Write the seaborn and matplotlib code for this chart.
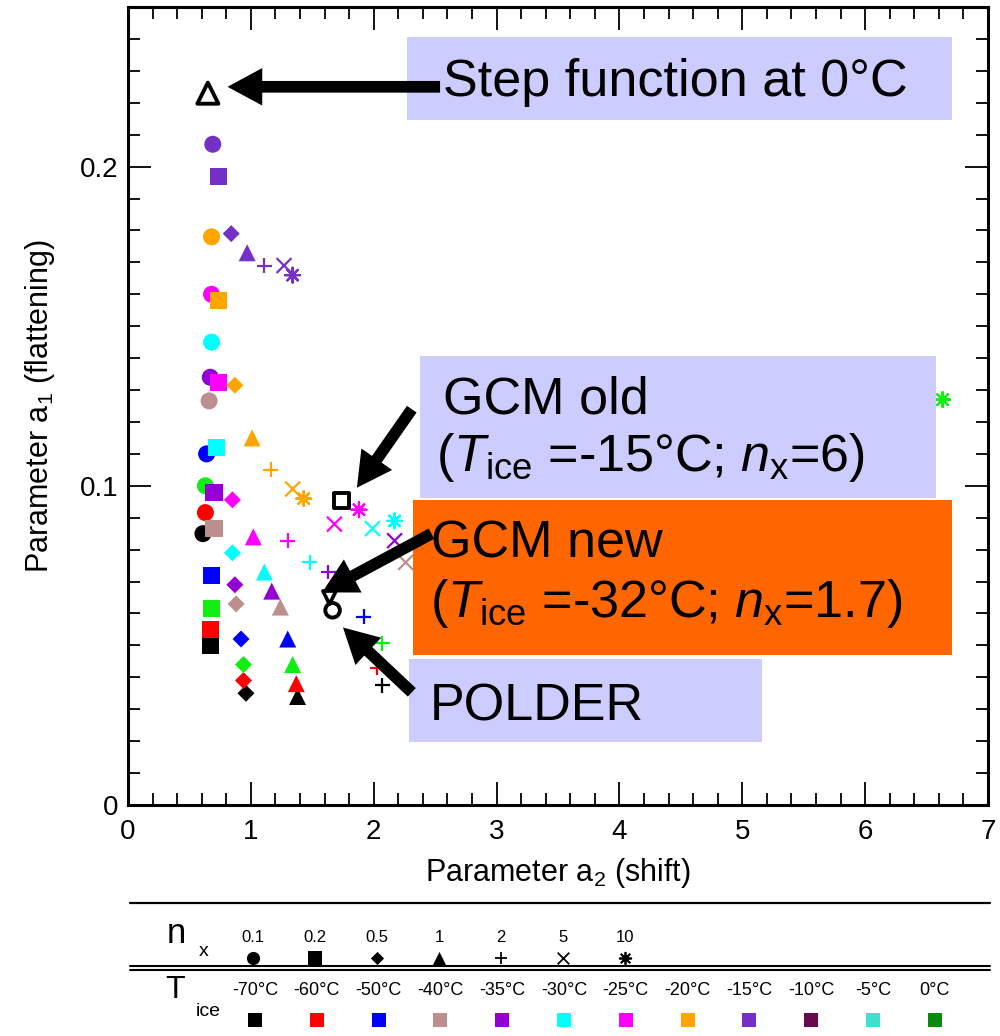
import numpy as np
import pandas as pd
import matplotlib
matplotlib.use("Agg")
import matplotlib.pyplot as plt
from matplotlib.patches import Rectangle
from matplotlib.ticker import MultipleLocator
import seaborn as sns

# --- data: a2 (shift) / a1 (flattening) per T_ice ---
nx_order = ['0.1', '0.2', '0.5', '1', '2', '5', '10']
tice_order = ['-70', '-60', '-50', '-40', '-35', '-30', '-25', '-20', '-15', '-10', '-5', '0']

nx_m70 = ['0.1', '0.2', '0.5', '1', '2']
a2_m70 = [0.61, 0.67, 0.96, 1.38, 2.07]
a1_m70 = [0.085, 0.050, 0.035, 0.034, 0.0375]

nx_m60 = ['0.1', '0.2', '0.5', '1', '2']
a2_m60 = [0.63, 0.67, 0.94, 1.37, 2.03]
a1_m60 = [0.0916, 0.055, 0.039, 0.038, 0.043]

nx_m50 = ['0.1', '0.2', '0.5', '1', '2']
a2_m50 = [0.64, 0.68, 0.92, 1.30, 1.92]
a1_m50 = [0.110, 0.072, 0.052, 0.052, 0.059]

nx_m40 = ['0.1', '0.2', '0.5', '1', '5']
a2_m40 = [0.66, 0.70, 0.88, 1.24, 2.26]
a1_m40 = [0.1266, 0.0866, 0.063, 0.062, 0.076]

nx_m35 = ['0.1', '0.2', '0.5', '1', '2', '5']
a2_m35 = [0.67, 0.70, 0.87, 1.17, 1.63, 2.17]
a1_m35 = [0.134, 0.098, 0.069, 0.067, 0.073, 0.0828]

nx_m30 = ['0.1', '0.2', '0.5', '1', '2', '5', '10']
a2_m30 = [0.68, 0.72, 0.85, 1.11, 1.48, 1.99, 2.17]
a1_m30 = [0.145, 0.112, 0.079, 0.073, 0.076, 0.0866, 0.089]

nx_m25 = ['0.1', '0.2', '0.5', '1', '2', '5', '10']
a2_m25 = [0.68, 0.74, 0.85, 1.02, 1.30, 1.68, 1.88]
a1_m25 = [0.160, 0.1325, 0.0956, 0.084, 0.0828, 0.088, 0.0925]

nx_m20 = ['0.1', '0.2', '0.5', '1', '2', '5', '10']
a2_m20 = [0.68, 0.74, 0.87, 1.01, 1.16, 1.34, 1.43]
a1_m20 = [0.178, 0.158, 0.1315, 0.115, 0.105, 0.099, 0.096]

nx_m15 = ['0.1', '0.2', '0.5', '1', '2', '5', '10']
a2_m15 = [0.69, 0.74, 0.84, 0.97, 1.11, 1.27, 1.34]
a1_m15 = [0.207, 0.197, 0.179, 0.173, 0.169, 0.169, 0.166]

nx_p0 = ['0.1', '0.2', '0.5', '1', '2', '10']
a2_p0 = [0.63, 0.68, 0.94, 1.34, 2.07, 6.63]
a1_p0 = [0.100, 0.0615, 0.044, 0.044, 0.0507, 0.127]

# reference points (open symbols)
step_a2, step_a1 = [0.65], [0.223]
gcm_old_a2, gcm_old_a1 = [1.74], [0.0953]
gcm_new_a2, gcm_new_a1 = [1.64], [0.065]
polder_a2, polder_a1 = [1.665], [0.061]

tice_colors = ['#000000', '#ff0000', '#0000ff', '#bc8f8f', '#9400d3', '#00ffff',
               '#ff00ff', '#ffa500', '#7530c8', '#6b0a4b', '#40e0d0', '#0a8a0a']
tice_legend = ['-70°C', '-60°C', '-50°C', '-40°C', '-35°C', '-30°C',
               '-25°C', '-20°C', '-15°C', '-10°C', '-5°C', '0°C']

series = [('-70', nx_m70, a2_m70, a1_m70), ('-60', nx_m60, a2_m60, a1_m60),
          ('-50', nx_m50, a2_m50, a1_m50), ('-40', nx_m40, a2_m40, a1_m40),
          ('-35', nx_m35, a2_m35, a1_m35), ('-30', nx_m30, a2_m30, a1_m30),
          ('-25', nx_m25, a2_m25, a1_m25), ('-20', nx_m20, a2_m20, a1_m20),
          ('-15', nx_m15, a2_m15, a1_m15), ('0', nx_p0, a2_p0, a1_p0)]
df = pd.concat([pd.DataFrame({'a2': a2, 'a1': a1, 'nx': nx, 'tice': t})
                for t, nx, a2, a1 in series], ignore_index=True)
df['order'] = df['nx'].map({k: i for i, k in enumerate(nx_order)})
df = df.sort_values('order', kind='stable')

palette = dict(zip(tice_order, tice_colors))
palette['0'] = '#11ee11'
diamond = [(0, 1), (1, 0), (0, -1), (-1, 0), (0, 1)]
filled_markers = {'0.1': 'o', '0.2': 's', '0.5': diamond, '1': '^'}
line_markers = {'2': '+', '5': 'x', '10': (8, 2, 0)}

sns.set_style('ticks')
plt.rcParams['font.family'] = ['Liberation Sans', 'DejaVu Sans']
plt.rcParams['mathtext.fontset'] = 'custom'
plt.rcParams['mathtext.rm'] = 'Liberation Sans'
plt.rcParams['mathtext.it'] = 'Liberation Sans:italic'
for key in ['text.color', 'axes.labelcolor', 'xtick.color', 'ytick.color', 'axes.edgecolor']:
    plt.rcParams[key] = 'black'

fig = plt.figure(figsize=(10, 10.36), dpi=100)
ax = fig.add_axes([0.128, 231 / 1036, 0.86, 798 / 1036])

sns.scatterplot(data=df[df['nx'].isin(filled_markers)], x='a2', y='a1', hue='tice',
                style='nx', palette=palette, markers=filled_markers, s=150,
                linewidth=0, legend=False, ax=ax, zorder=2)
sns.scatterplot(data=df[df['nx'].isin(line_markers)], x='a2', y='a1', hue='tice',
                style='nx', palette=palette, markers=line_markers, s=115,
                linewidth=1.6, legend=False, ax=ax, zorder=2)

open_kw = dict(facecolor='none', edgecolor='black', ax=ax, zorder=2)
sns.scatterplot(x=step_a2, y=step_a1, marker='^', s=230, linewidth=2.8, **open_kw)
sns.scatterplot(x=gcm_old_a2, y=gcm_old_a1, marker='s', s=120, linewidth=2.8, **open_kw)
sns.scatterplot(x=gcm_new_a2, y=gcm_new_a1, marker='v', s=90, linewidth=2.6, **open_kw)
sns.scatterplot(x=polder_a2, y=polder_a1, marker='o', s=110, linewidth=2.8, **open_kw)

ax.set_xlim(0, 7)
ax.set_ylim(0, 0.25)
ax.set_xticks(range(8))
ax.set_xticklabels([str(i) for i in range(8)])
ax.set_yticks([0, 0.1, 0.2])
ax.set_yticklabels(['0', '0.1', '0.2'])
ax.xaxis.set_minor_locator(MultipleLocator(0.2))
ax.yaxis.set_minor_locator(MultipleLocator(0.01))
ax.tick_params(which='both', direction='in', top=True, right=True, labelsize=20)
ax.tick_params(axis='x', which='major', length=16.5, width=1.3, pad=10)
ax.tick_params(axis='y', which='major', length=16.5, width=1.3, pad=7)
ax.tick_params(which='minor', length=8.5, width=1.3)
for sp in ax.spines.values():
    sp.set_linewidth(2.2)
ax.set_xlabel(r'Parameter a$_{2}$ (shift)', fontsize=22, labelpad=8)
ax.set_ylabel(r'Parameter a$_{1}$ (flattening)', fontsize=22, labelpad=16)

# annotation boxes
lav = '#ccccff'
boxes = [((2.27, 0.2147), 4.44, 0.0259, lav),
         ((2.38, 0.0963), 4.20, 0.0443, lav),
         ((2.32, 0.0469), 4.39, 0.0487, '#ff6600'),
         ((2.29, 0.0197), 2.87, 0.0259, lav)]
for xy, w, h, c in boxes:
    ax.add_patch(Rectangle(xy, w, h, facecolor=c, edgecolor='none', zorder=3))

tk = dict(fontsize=37.5, va='baseline', ha='left', zorder=4, color='black')
ax.text(2.56, 0.2222, 'Step function at 0°C', **tk)
ax.text(2.56, 0.1225, 'GCM old', **tk)
ax.text(2.51, 0.1047, r'($\mathit{T}_{\mathrm{ice}}$ =-15°C; $\mathit{n}_{\mathrm{x}}$=6)', **tk)
ax.text(2.47, 0.0775, 'GCM new', **tk)
ax.text(2.46, 0.0588, r'($\mathit{T}_{\mathrm{ice}}$ =-32°C; $\mathit{n}_{\mathrm{x}}$=1.7)', **tk)
ax.text(2.46, 0.0266, 'POLDER', **tk)

arrow = dict(arrowstyle='simple,head_length=1.25,head_width=1.35,tail_width=0.42',
             mutation_scale=20, facecolor='black', edgecolor='none',
             shrinkA=0, shrinkB=0)
for tail, head in [((2.54, 0.225), (0.81, 0.225)),
                   ((2.31, 0.124), (1.863, 0.0994)),
                   ((2.47, 0.085), (1.58, 0.0666)),
                   ((2.31, 0.0353), (1.75, 0.0556))]:
    ax.annotate('', xy=head, xytext=tail, arrowprops=arrow, zorder=5)

# symbol key below the axes (pixel coordinates)
lg = fig.add_axes([0, 0, 1, 1])
lg.set_xlim(0, 1000)
lg.set_ylim(1036, 0)
lg.axis('off')
lg.plot([130, 990], [903, 903], color='black', lw=1.6)
lg.plot([130, 990], [966, 966], color='black', lw=1.5)
lg.plot([130, 990], [970, 970], color='black', lw=1.5)

lg.text(176, 943, 'n', fontsize=25, ha='center', va='baseline')
lg.text(204, 956, 'x', fontsize=14, ha='center', va='baseline')
lg.text(175, 998, 'T', fontsize=23, ha='center', va='baseline')
lg.text(208, 1016, 'ice', fontsize=14, ha='center', va='baseline')

key_markers = ['o', 's', diamond, '^', '+', 'x', (8, 2, 0)]
for i, (lab, m) in enumerate(zip(nx_order, key_markers)):
    xp = 253 + 62 * i
    lg.text(xp, 942, lab, fontsize=12, ha='center', va='baseline')
    if m in ('+', 'x', (8, 2, 0)):
        lg.scatter([xp], [958], marker=m, s=70, color='black', linewidths=1.3)
    else:
        lg.scatter([xp], [958], marker=m, s=90, color='black', linewidths=0)

for i, (lab, c) in enumerate(zip(tice_legend, tice_colors)):
    xp = 255 + 61.8 * i
    lg.text(xp, 995, lab, fontsize=13, ha='center', va='baseline')
    lg.scatter([xp], [1020], marker='s', s=110, color=c, linewidths=0)

fig.savefig('out.png', dpi=100)
